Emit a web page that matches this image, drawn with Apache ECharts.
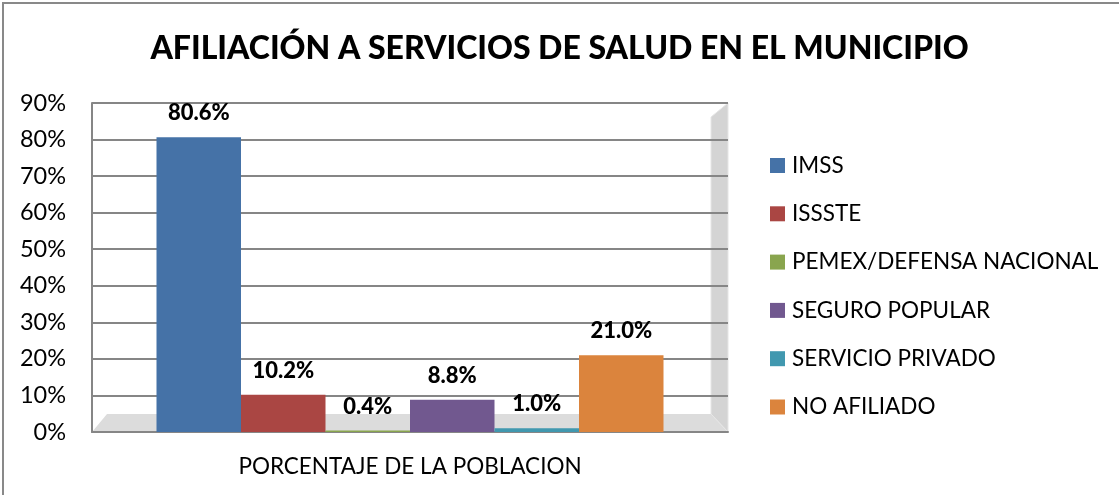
<!DOCTYPE html>
<html>
<head>
<meta charset="utf-8">
<script src="https://cdn.jsdelivr.net/npm/echarts@6/dist/echarts.min.js"></script>
<style>
html,body{margin:0;padding:0;background:#fff;}
#chart{width:1119px;height:495px;}
</style>
</head>
<body>
<div id="chart"></div>
<script>
const title = 'AFILIACIÓN A SERVICIOS DE SALUD EN EL MUNICIPIO';
const categories = ['PORCENTAJE DE LA POBLACION'];
const seriesNames = ['IMSS', 'ISSSTE', 'PEMEX/DEFENSA NACIONAL', 'SEGURO POPULAR', 'SERVICIO PRIVADO', 'NO AFILIADO'];
const seriesValues = [80.6, 10.2, 0.4, 8.8, 1.0, 21.0];
const seriesColors = ['#4572A7', '#AA4643', '#89A54E', '#71588F', '#4198AF', '#DB843D'];
const yTicks = [0, 10, 20, 30, 40, 50, 60, 70, 80, 90];

const FONT = 'Lato, "Open Sans", sans-serif';
const chart = echarts.init(document.getElementById('chart'), null, {renderer: 'canvas'});

const series = seriesNames.map((name, i) => ({
  name: name,
  type: 'bar',
  data: [seriesValues[i]],
  barWidth: 84.5,
  barGap: '0%',
  itemStyle: {color: seriesColors[i]},
  label: {
    show: true,
    position: 'top',
    distance: 13,
    formatter: p => p.value.toFixed(1) + '%',
    fontFamily: FONT,
    fontWeight: 900,
    fontSize: 22,
    color: '#000'
  },
  z: 5
}));

const option = {
  animation: false,
  title: {
    text: title,
    left: 'center',
    top: 28,
    textStyle: {fontFamily: FONT, fontWeight: 900, fontSize: 32, color: '#000'}
  },
  legend: {
    orient: 'vertical',
    left: 770,
    top: 154,
    padding: 0,
    itemWidth: 15,
    itemHeight: 15,
    itemGap: 25.3,
    icon: 'rect',
    data: seriesNames,
    textStyle: {fontFamily: FONT, fontSize: 22.5, color: '#000', padding: [0, 0, 0, 2]}
  },
  grid: {left: 92, right: 391, top: 103, bottom: 63, containLabel: false},
  xAxis: {
    type: 'category',
    data: categories,
    axisLine: {show: true, lineStyle: {color: '#868686', width: 2}},
    axisTick: {show: false},
    axisLabel: {fontFamily: FONT, fontSize: 22.5, color: '#000', margin: 23}
  },
  yAxis: {
    type: 'value',
    min: yTicks[0],
    max: yTicks[yTicks.length - 1],
    interval: 10,
    axisLine: {show: true, lineStyle: {color: '#868686', width: 2}},
    axisTick: {show: false},
    splitLine: {show: true, lineStyle: {color: '#868686', width: 2}},
    axisLabel: {formatter: '{value}%', fontFamily: FONT, fontSize: 23.5, color: '#000', margin: 26}
  },
  series: series
};
chart.setOption(option);

// decorative 3D floor and side wall, located from the grid's own rect
const grid = chart.getModel().getComponent('grid', 0).coordinateSystem.getRect();
const xL = grid.x, xR = grid.x + grid.width, yB = grid.y + grid.height, yT = grid.y;
const d = 17, dy = 18;
chart.setOption({
  graphic: {elements: [
    {type: 'polygon', z: -10, shape: {points: [[xL, yB], [xL + 15, yB - dy], [xR - d, yB - dy], [xR, yB]]},
      style: {fill: '#dcdcdc'}},
    {type: 'polygon', z: -10, shape: {points: [[xR - d, yT + 14], [xR, yT], [xR, yB], [xR - d, yB - dy]]},
      style: {fill: '#d4d4d4', stroke: '#e6e6e6', lineWidth: 1}},
    {type: 'rect', z: -10, shape: {x: 3, y: 3, width: 1200, height: 600},
      style: {fill: null, stroke: '#898989', lineWidth: 2}}
  ]}
});
</script>
</body>
</html>
